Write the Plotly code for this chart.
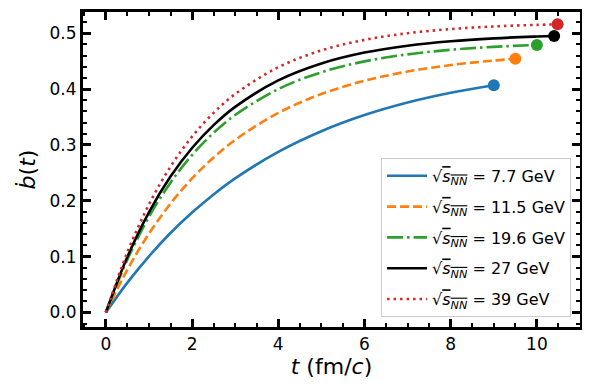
import plotly.graph_objects as go

# values
labels = ["7.7", "11.5", "19.6", "27", "39"]
t_77 = [0, 0.5, 1, 1.5, 2, 2.5, 3, 4, 5, 6, 7, 8, 9]
b_77 = [0, 0.0535, 0.1006, 0.1423, 0.1790, 0.2114, 0.2401, 0.2876, 0.3246, 0.3535, 0.3759, 0.3934, 0.4070]
t_115 = [0, 0.5, 1, 1.5, 2, 2.5, 3, 4, 5, 6, 7, 8, 9, 9.5]
b_115 = [0, 0.0768, 0.1411, 0.1949, 0.2399, 0.2775, 0.3090, 0.3573, 0.3912, 0.4149, 0.4314, 0.4430, 0.4511, 0.4542]
t_196 = [0, 0.5, 1, 1.5, 2, 2.5, 3, 4, 5, 6, 7, 8, 9, 10]
b_196 = [0, 0.0948, 0.1711, 0.2325, 0.2819, 0.3217, 0.3536, 0.4000, 0.4301, 0.4496, 0.4622, 0.4703, 0.4756, 0.4790]
t_27 = [0, 0.5, 1, 1.5, 2, 2.5, 3, 4, 5, 6, 7, 8, 9, 10, 10.4]
b_27 = [0, 0.0996, 0.1794, 0.2433, 0.2945, 0.3354, 0.3682, 0.4155, 0.4458, 0.4653, 0.4777, 0.4857, 0.4908, 0.4941, 0.4951]
t_39 = [0, 0.5, 1, 1.5, 2, 2.5, 3, 4, 5, 6, 7, 8, 9, 10, 10.48]
b_39 = [0, 0.1079, 0.1934, 0.2612, 0.3149, 0.3574, 0.3911, 0.4391, 0.4692, 0.4881, 0.5000, 0.5074, 0.5121, 0.5150, 0.5160]

series = [
    (t_77, b_77, "#1f77b4", "solid"),
    (t_115, b_115, "#ff7f0e", "9px,4px"),
    (t_196, b_196, "#2ca02c", "16px,4px,2.5px,4px"),
    (t_27, b_27, "black", "solid"),
    (t_39, b_39, "#d62728", "2.5px,4px"),
]

SQRT_S = "√<span style='text-decoration:overline'><i>s</i><sub><i>NN</i></sub></span>"

fig = go.Figure()
for i, ((t, b, color, dash), lab) in enumerate(zip(series, labels)):
    fig.add_trace(go.Scatter(
        x=t, y=b, mode="lines", line=dict(color=color, width=2.6, dash=dash, shape="spline"),
        name=SQRT_S + " = " + lab + " GeV",
        legendgroup=f"g{i}",
    ))
for (t, b, color, dash) in series:
    # end-point dot
    fig.add_trace(go.Scatter(
        x=[t[-1]], y=[b[-1]], mode="markers", marker=dict(color=color, size=12),
        showlegend=False,
    ))

axis_common = dict(
    showline=True, linecolor="black", linewidth=3, mirror="allticks",
    ticks="inside", ticklen=8, tickwidth=2.5, tickcolor="black",
    showgrid=False, zeroline=False, automargin=False,
    tickfont=dict(family="DejaVu Sans", size=17, color="black"),
)
fig.update_xaxes(
    range=[-0.53, 11.0], dtick=2, tick0=0,
    minor=dict(ticks="inside", dtick=0.5, ticklen=4, tickwidth=1.5, tickcolor="black", showgrid=False),
    title=dict(text="<i>t</i> (fm/<i>c</i>)", font=dict(family="DejaVu Sans", size=22, color="black"), standoff=6),
    **axis_common,
)
fig.update_yaxes(
    range=[-0.026, 0.538], dtick=0.1, tick0=0, tickformat=".1f",
    minor=dict(ticks="inside", dtick=0.02, ticklen=4, tickwidth=1.5, tickcolor="black", showgrid=False),
    title=dict(text="<i>b\u0307</i>(<i>t</i>)", font=dict(family="DejaVu Sans", size=22, color="black"), standoff=8),
    **axis_common,
)
# page body has an 8px margin, so the figure is a bit smaller and shifted
fig.update_layout(
    width=582, height=382,
    margin=dict(l=75, r=10, t=4, b=63),
    plot_bgcolor="white", paper_bgcolor="white",
    legend=dict(
        x=0.982, y=0.032, xanchor="right", yanchor="bottom",
        bgcolor="rgba(255,255,255,0.8)", bordercolor="#cccccc", borderwidth=1,
        font=dict(family="DejaVu Sans", size=16, color="black"),
        tracegroupgap=7, itemwidth=40,
    ),
)
fig.write_html("out.html")
